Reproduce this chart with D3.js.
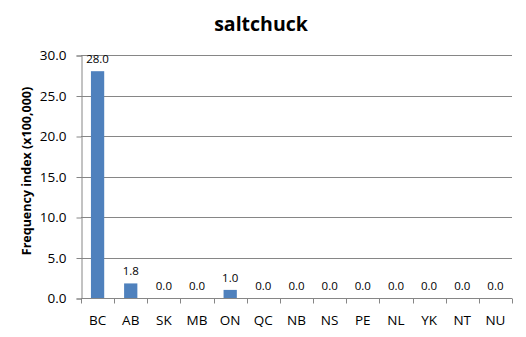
<!DOCTYPE html>
<html><head><meta charset="utf-8">
<script src="https://cdn.jsdelivr.net/npm/d3@7"></script>
<style>body{margin:0;background:#fff;} svg{display:block;}</style>
</head><body>
<svg id="c" width="526" height="337"></svg>
<script>
const categories = ["BC","AB","SK","MB","ON","QC","NB","NS","PE","NL","YK","NT","NU"];
const values = [28.0,1.8,0.0,0.0,1.0,0.0,0.0,0.0,0.0,0.0,0.0,0.0,0.0];
const yTicks = [0,5,10,15,20,25,30];
const title = "saltchuck";
const yLabel = "Frequency index (x100,000)";

const svg = d3.select("#c");
const font = "'Open Sans', sans-serif";
const m = {left:81, right:14, top:55, bottom:39};
const W = 526, H = 337;
const x = d3.scaleBand().domain(categories).range([m.left, W - m.right]).paddingInner(0.6).paddingOuter(0.3);
const xb = d3.scaleBand().domain(categories).range([m.left, W - m.right]);
const y = d3.scaleLinear().domain([0,30]).range([H - m.bottom, m.top]);

// gridlines
svg.append("g").selectAll("line").data(yTicks.filter(d=>d>0)).join("line")
  .attr("x1", m.left).attr("x2", W - m.right)
  .attr("y1", d=>Math.round(y(d))+0.5).attr("y2", d=>Math.round(y(d))+0.5)
  .attr("stroke", "#868686").attr("stroke-width", 1);

// bars
svg.append("g").selectAll("rect").data(values).join("rect")
  .attr("x", (d,i)=>x(categories[i])).attr("width", x.bandwidth())
  .attr("y", d=>y(d)).attr("height", d=>y(0)-y(d))
  .attr("fill", "#4F81BD");

// y axis
const ya = d3.axisLeft(y).tickValues(yTicks).tickFormat(d3.format(".1f")).tickSize(5).tickPadding(10);
const gy = svg.append("g").attr("transform", `translate(${m.left+0.5},0.5)`).call(ya);
gy.selectAll("text").attr("font-family", font).attr("font-size", 13.5).attr("fill", "#000");
gy.selectAll("line,path").attr("stroke", "#868686");

// x axis
const gx = svg.append("g").attr("transform", `translate(0,${Math.round(y(0))+0.5})`);
gx.append("line").attr("x1", m.left).attr("x2", W - m.right).attr("stroke", "#868686");
gx.selectAll("line.t").data(categories.concat(["_end"])).join("line").attr("class","t")
  .attr("x1", (d,i)=> Math.round(m.left + i*xb.bandwidth())+0.5)
  .attr("x2", (d,i)=> Math.round(m.left + i*xb.bandwidth())+0.5)
  .attr("y1", 0).attr("y2", 5).attr("stroke", "#868686");
gx.selectAll("text").data(categories).join("text")
  .attr("x", d=>xb(d)+xb.bandwidth()/2).attr("y", 26)
  .attr("text-anchor","middle").attr("font-family", font).attr("font-size", 13.5).attr("fill","#000")
  .text(d=>d);

// value labels
svg.append("g").selectAll("text").data(values).join("text")
  .attr("x", (d,i)=>xb(categories[i])+xb.bandwidth()/2)
  .attr("y", d=>y(d)-8)
  .attr("text-anchor","middle").attr("font-family", font).attr("font-size", 11.5).attr("fill","#000")
  .text(d=>d3.format(".1f")(d));

// title
svg.append("text").attr("x", 261).attr("y", 31).attr("text-anchor","middle")
  .attr("font-family", font).attr("font-weight","bold").attr("font-size", 19.5).text(title);

// y label
svg.append("text").attr("transform", `translate(31,171) rotate(-90)`)
  .attr("text-anchor","middle").attr("font-family", font).attr("font-weight","bold").attr("font-size", 12.5)
  .text(yLabel);
</script>
</body></html>
